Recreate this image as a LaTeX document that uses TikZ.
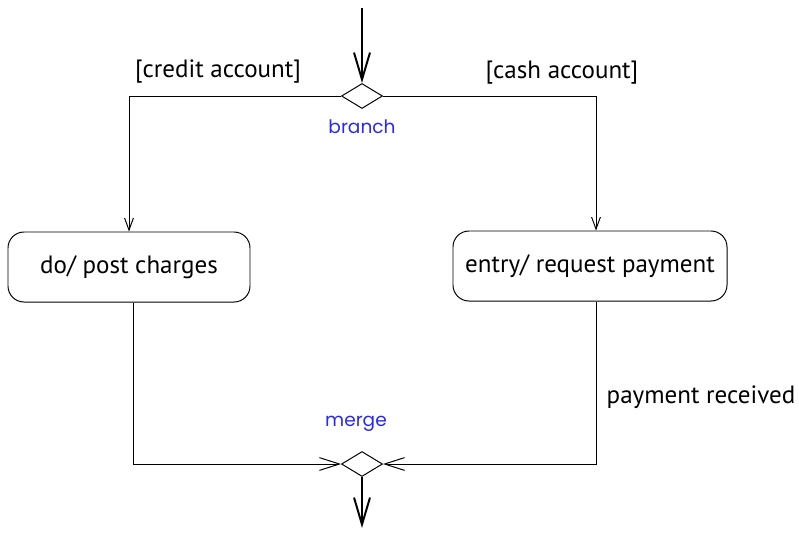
\documentclass[tikz,border=0pt]{standalone}
\usepackage{fontspec}
\setmainfont{PT Sans}
\newfontfamily\tagfont{Poppins}
\usetikzlibrary{arrows.meta,shapes.geometric,positioning}
\definecolor{tagblue}{RGB}{40,40,245}

\begin{document}
\begin{tikzpicture}[
  x=0.25mm,y=-0.25mm,
  state/.style={draw,rounded corners=4mm,minimum height=17.5mm,line width=0.7pt,
    font=\fontsize{17.8}{21}\selectfont,inner xsep=2mm},
  choice/.style={draw,diamond,inner sep=0pt,minimum width=10.25mm,minimum height=6.25mm,line width=0.7pt},
  guard/.style={font=\fontsize{17.8}{21}\selectfont},
  tag/.style={text=tagblue,font=\tagfont\fontsize{13.2}{15}\selectfont},
  flow/.style={line width=0.7pt,-{Straight Barb[length=3mm,width=2.2mm,line width=0.7pt]}},
  joint/.style={line width=0.7pt,-{Straight Barb[length=5mm,width=3.2mm,line width=0.7pt]}},
  mainflow/.style={line width=1.4pt,-{Straight Barb[length=6.75mm,width=4mm,line width=1.4pt]}}
]
  \useasboundingbox (0,0) rectangle (799,534);

  % decision points
  \node[choice] (branch) at (362,96) {};
  \node[choice] (merge) at (362,464) {};
  \node[tag] (branchtag) at (362,127) {branch};
  \node[tag] (mergetag) at (356,424) {merge};

  % states
  \node[state,minimum width=60.5mm] (post) at (129,267) {do/ post charges};
  \node[state,minimum width=68.5mm] (request) at (590,266) {entry/ request payment};

  % guards
  \node[guard] (credit) at (218,72) {[credit account]};
  \node[guard] (cash) at (562,73) {[cash account]};
  \node[guard] (paid) at (701,397) {payment received};

  \coordinate (start) at (362,8);
  \coordinate (finish) at (362,528);

  \draw[mainflow] (start) -- (branch.north);
  \draw[flow] (branch.west) -| (post.north);
  \draw[flow] (branch.east) -| ([xshift=1.5mm]request.north);
  \draw[joint] ([xshift=1mm]post.south) |- (merge.west);
  \draw[joint] ([xshift=1.5mm]request.south) |- (merge.east);
  \draw[mainflow] (merge.south) -- (finish);
\end{tikzpicture}
\end{document}
